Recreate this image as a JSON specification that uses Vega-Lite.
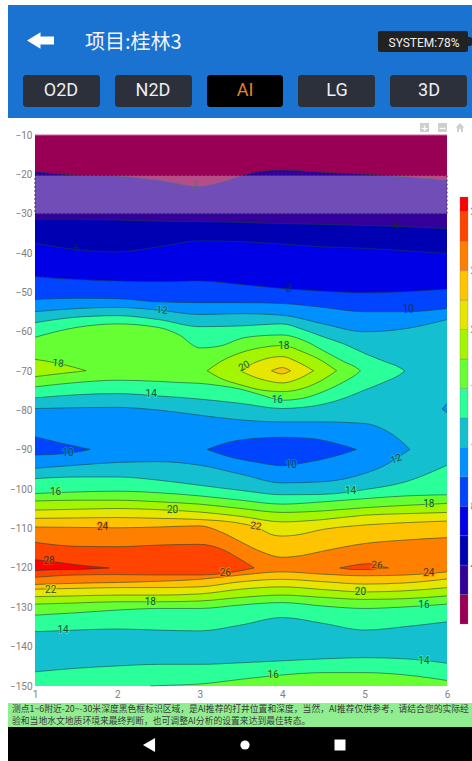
{"$schema":"https://vega.github.io/schema/vega-lite/v6.json","width":412,"height":551,"autosize":{"type":"none"},"padding":{"left":35,"top":135,"right":25,"bottom":75},"background":"#ffffff","config":{"view":{"stroke":null},"axis":{"grid":false,"domain":false,"ticks":false}},
"datasets":{
"curves":[
{"c":"c0","b":0,"x":1,"y":-10},{"c":"c0","b":0,"x":6,"y":-10},
{"c":"c2","b":2,"x":1,"y":-19.3},{"c":"c2","b":2,"x":1.5,"y":-20.2},{"c":"c2","b":2,"x":2,"y":-20.4},{"c":"c2","b":2,"x":2.5,"y":-21.5},{"c":"c2","b":2,"x":3,"y":-23},{"c":"c2","b":2,"x":3.25,"y":-22},{"c":"c2","b":2,"x":3.5,"y":-20.4},{"c":"c2","b":2,"x":3.75,"y":-19.2},{"c":"c2","b":2,"x":4,"y":-18.9},{"c":"c2","b":2,"x":4.5,"y":-19.5},{"c":"c2","b":2,"x":5,"y":-20},{"c":"c2","b":2,"x":5.5,"y":-20.6},{"c":"c2","b":2,"x":6,"y":-21.5},
{"c":"c4","b":4,"x":1,"y":-31.4},{"c":"c4","b":4,"x":1.5,"y":-31.4},{"c":"c4","b":4,"x":2,"y":-31.6},{"c":"c4","b":4,"x":2.5,"y":-31.9},{"c":"c4","b":4,"x":3,"y":-32},{"c":"c4","b":4,"x":3.5,"y":-32.2},{"c":"c4","b":4,"x":4,"y":-32.5},{"c":"c4","b":4,"x":4.5,"y":-32.7},{"c":"c4","b":4,"x":5,"y":-33},{"c":"c4","b":4,"x":5.5,"y":-33.3},{"c":"c4","b":4,"x":6,"y":-33.8},
{"c":"c6","b":6,"x":1,"y":-37.5},{"c":"c6","b":6,"x":1.5,"y":-39.1},{"c":"c6","b":6,"x":2,"y":-39.7},{"c":"c6","b":6,"x":2.5,"y":-38.4},{"c":"c6","b":6,"x":3,"y":-36.9},{"c":"c6","b":6,"x":3.5,"y":-37.1},{"c":"c6","b":6,"x":4,"y":-37.7},{"c":"c6","b":6,"x":4.5,"y":-38.4},{"c":"c6","b":6,"x":5,"y":-38.8},{"c":"c6","b":6,"x":5.5,"y":-39.4},{"c":"c6","b":6,"x":6,"y":-40.1},
{"c":"c8","b":8,"x":1,"y":-46},{"c":"c8","b":8,"x":1.5,"y":-46.7},{"c":"c8","b":8,"x":2,"y":-47.1},{"c":"c8","b":8,"x":2.5,"y":-47.3},{"c":"c8","b":8,"x":3,"y":-47.1},{"c":"c8","b":8,"x":3.5,"y":-48},{"c":"c8","b":8,"x":4,"y":-49},{"c":"c8","b":8,"x":4.5,"y":-49.7},{"c":"c8","b":8,"x":5,"y":-50.1},{"c":"c8","b":8,"x":5.5,"y":-49.8},{"c":"c8","b":8,"x":6,"y":-49.2},
{"c":"c10","b":10,"x":1,"y":-51.8},{"c":"c10","b":10,"x":1.5,"y":-51.5},{"c":"c10","b":10,"x":2,"y":-51.6},{"c":"c10","b":10,"x":2.5,"y":-52.4},{"c":"c10","b":10,"x":3,"y":-52.6},{"c":"c10","b":10,"x":3.5,"y":-52.6},{"c":"c10","b":10,"x":4,"y":-52.8},{"c":"c10","b":10,"x":4.5,"y":-53.8},{"c":"c10","b":10,"x":5,"y":-54.9},{"c":"c10","b":10,"x":5.5,"y":-54.9},{"c":"c10","b":10,"x":6,"y":-54.1},
{"c":"c12","b":12,"x":1,"y":-54.9},{"c":"c12","b":12,"x":1.5,"y":-54.1},{"c":"c12","b":12,"x":2,"y":-53.8},{"c":"c12","b":12,"x":2.5,"y":-54.5},{"c":"c12","b":12,"x":3,"y":-55.6},{"c":"c12","b":12,"x":3.5,"y":-55.4},{"c":"c12","b":12,"x":4,"y":-55.8},{"c":"c12","b":12,"x":4.5,"y":-58},{"c":"c12","b":12,"x":5,"y":-60},{"c":"c12","b":12,"x":5.5,"y":-59.2},{"c":"c12","b":12,"x":6,"y":-56.9},
{"c":"c14a","b":14,"x":1,"y":-97.3},{"c":"c14a","b":14,"x":1.5,"y":-96.9},{"c":"c14a","b":14,"x":2,"y":-96.9},{"c":"c14a","b":14,"x":2.5,"y":-97.7},{"c":"c14a","b":14,"x":3,"y":-99},{"c":"c14a","b":14,"x":3.5,"y":-100.3},{"c":"c14a","b":14,"x":4,"y":-101.4},{"c":"c14a","b":14,"x":4.5,"y":-101.3},{"c":"c14a","b":14,"x":5,"y":-100.1},{"c":"c14a","b":14,"x":5.5,"y":-98.1},{"c":"c14a","b":14,"x":6,"y":-93.9},
{"c":"c16a","b":16,"x":1,"y":-101.1},{"c":"c16a","b":16,"x":1.5,"y":-100.7},{"c":"c16a","b":16,"x":2,"y":-100.5},{"c":"c16a","b":16,"x":2.5,"y":-100.9},{"c":"c16a","b":16,"x":3,"y":-101.7},{"c":"c16a","b":16,"x":3.5,"y":-102.8},{"c":"c16a","b":16,"x":4,"y":-103.8},{"c":"c16a","b":16,"x":4.5,"y":-103.2},{"c":"c16a","b":16,"x":5,"y":-102.4},{"c":"c16a","b":16,"x":5.5,"y":-101.7},{"c":"c16a","b":16,"x":6,"y":-101.4},
{"c":"c18a","b":18,"x":1,"y":-103},{"c":"c18a","b":18,"x":1.5,"y":-102.8},{"c":"c18a","b":18,"x":2,"y":-102.8},{"c":"c18a","b":18,"x":2.5,"y":-103.2},{"c":"c18a","b":18,"x":3,"y":-103.8},{"c":"c18a","b":18,"x":3.5,"y":-104.9},{"c":"c18a","b":18,"x":4,"y":-105.9},{"c":"c18a","b":18,"x":4.5,"y":-105.5},{"c":"c18a","b":18,"x":5,"y":-104.7},{"c":"c18a","b":18,"x":5.5,"y":-104.1},{"c":"c18a","b":18,"x":6,"y":-103.6},
{"c":"c20a","b":20,"x":1,"y":-105.3},{"c":"c20a","b":20,"x":1.5,"y":-105.1},{"c":"c20a","b":20,"x":2,"y":-104.9},{"c":"c20a","b":20,"x":2.5,"y":-105.2},{"c":"c20a","b":20,"x":3,"y":-105.8},{"c":"c20a","b":20,"x":3.5,"y":-106.9},{"c":"c20a","b":20,"x":4,"y":-108.3},{"c":"c20a","b":20,"x":4.5,"y":-107.7},{"c":"c20a","b":20,"x":5,"y":-106.6},{"c":"c20a","b":20,"x":5.5,"y":-106.2},{"c":"c20a","b":20,"x":6,"y":-105.9},
{"c":"c22a","b":22,"x":1,"y":-107.4},{"c":"c22a","b":22,"x":1.5,"y":-107.3},{"c":"c22a","b":22,"x":2,"y":-107.2},{"c":"c22a","b":22,"x":2.5,"y":-107.4},{"c":"c22a","b":22,"x":3,"y":-107.7},{"c":"c22a","b":22,"x":3.5,"y":-108.7},{"c":"c22a","b":22,"x":3.68,"y":-109.6},{"c":"c22a","b":22,"x":3.9,"y":-111.7},{"c":"c22a","b":22,"x":4,"y":-111.9},{"c":"c22a","b":22,"x":4.15,"y":-111.7},{"c":"c22a","b":22,"x":4.5,"y":-110.2},{"c":"c22a","b":22,"x":5,"y":-109.1},{"c":"c22a","b":22,"x":5.5,"y":-108.5},{"c":"c22a","b":22,"x":6,"y":-108.1},
{"c":"c24a","b":24,"x":1,"y":-109.6},{"c":"c24a","b":24,"x":1.5,"y":-109.7},{"c":"c24a","b":24,"x":2,"y":-109.8},{"c":"c24a","b":24,"x":2.5,"y":-109.6},{"c":"c24a","b":24,"x":3,"y":-109.3},{"c":"c24a","b":24,"x":3.25,"y":-110.8},{"c":"c24a","b":24,"x":3.5,"y":-113.4},{"c":"c24a","b":24,"x":3.75,"y":-115.9},{"c":"c24a","b":24,"x":4,"y":-117.3},{"c":"c24a","b":24,"x":4.25,"y":-116.8},{"c":"c24a","b":24,"x":4.5,"y":-115.7},{"c":"c24a","b":24,"x":5,"y":-113.8},{"c":"c24a","b":24,"x":5.5,"y":-112.9},{"c":"c24a","b":24,"x":6,"y":-112.3},
{"c":"c24b","b":22,"x":1,"y":-124.2},{"c":"c24b","b":22,"x":1.5,"y":-123.9},{"c":"c24b","b":22,"x":2,"y":-123.7},{"c":"c24b","b":22,"x":2.5,"y":-123.4},{"c":"c24b","b":22,"x":3,"y":-122.9},{"c":"c24b","b":22,"x":3.5,"y":-121.8},{"c":"c24b","b":22,"x":4,"y":-121},{"c":"c24b","b":22,"x":4.5,"y":-121.6},{"c":"c24b","b":22,"x":5,"y":-122},{"c":"c24b","b":22,"x":5.5,"y":-121.8},{"c":"c24b","b":22,"x":6,"y":-121},
{"c":"c22b","b":20,"x":1,"y":-125.4},{"c":"c22b","b":20,"x":1.5,"y":-125.2},{"c":"c22b","b":20,"x":2,"y":-125},{"c":"c22b","b":20,"x":2.5,"y":-125},{"c":"c22b","b":20,"x":3,"y":-124.8},{"c":"c22b","b":20,"x":3.5,"y":-123.5},{"c":"c22b","b":20,"x":4,"y":-122.9},{"c":"c22b","b":20,"x":4.5,"y":-123.5},{"c":"c22b","b":20,"x":5,"y":-124.1},{"c":"c22b","b":20,"x":5.5,"y":-123.8},{"c":"c22b","b":20,"x":6,"y":-122.8},
{"c":"c20b","b":18,"x":1,"y":-127.3},{"c":"c20b","b":18,"x":1.5,"y":-127.1},{"c":"c20b","b":18,"x":2,"y":-126.9},{"c":"c20b","b":18,"x":2.5,"y":-126.9},{"c":"c20b","b":18,"x":3,"y":-126.6},{"c":"c20b","b":18,"x":3.5,"y":-125.4},{"c":"c20b","b":18,"x":4,"y":-124.8},{"c":"c20b","b":18,"x":4.5,"y":-125.5},{"c":"c20b","b":18,"x":5,"y":-126.1},{"c":"c20b","b":18,"x":5.5,"y":-125.8},{"c":"c20b","b":18,"x":6,"y":-125},
{"c":"c18b","b":16,"x":1,"y":-129.2},{"c":"c18b","b":16,"x":1.5,"y":-128.9},{"c":"c18b","b":16,"x":2,"y":-128.6},{"c":"c18b","b":16,"x":2.5,"y":-128.6},{"c":"c18b","b":16,"x":3,"y":-128.4},{"c":"c18b","b":16,"x":3.5,"y":-127.5},{"c":"c18b","b":16,"x":4,"y":-126.9},{"c":"c18b","b":16,"x":4.5,"y":-127.5},{"c":"c18b","b":16,"x":5,"y":-128},{"c":"c18b","b":16,"x":5.5,"y":-127.8},{"c":"c18b","b":16,"x":6,"y":-127.1},
{"c":"c16b","b":14,"x":1,"y":-132},{"c":"c16b","b":14,"x":1.5,"y":-131.4},{"c":"c16b","b":14,"x":2,"y":-130.7},{"c":"c16b","b":14,"x":2.5,"y":-130.3},{"c":"c16b","b":14,"x":3,"y":-130.3},{"c":"c16b","b":14,"x":3.5,"y":-129.4},{"c":"c16b","b":14,"x":4,"y":-128.8},{"c":"c16b","b":14,"x":4.5,"y":-129.7},{"c":"c16b","b":14,"x":5,"y":-130.3},{"c":"c16b","b":14,"x":5.5,"y":-129.9},{"c":"c16b","b":14,"x":6,"y":-129.2},
{"c":"c14b","b":12,"x":1,"y":-136.2},{"c":"c14b","b":12,"x":1.5,"y":-135.8},{"c":"c14b","b":12,"x":2,"y":-135.5},{"c":"c14b","b":12,"x":2.5,"y":-135.8},{"c":"c14b","b":12,"x":3,"y":-136},{"c":"c14b","b":12,"x":3.5,"y":-134.5},{"c":"c14b","b":12,"x":4,"y":-132.6},{"c":"c14b","b":12,"x":4.5,"y":-134.1},{"c":"c14b","b":12,"x":5,"y":-135.8},{"c":"c14b","b":12,"x":5.5,"y":-134.9},{"c":"c14b","b":12,"x":6,"y":-133.7},
{"c":"c14c","b":14,"x":1,"y":-146.4},{"c":"c14c","b":14,"x":1.5,"y":-145.5},{"c":"c14c","b":14,"x":2,"y":-144.9},{"c":"c14c","b":14,"x":2.5,"y":-144.5},{"c":"c14c","b":14,"x":3,"y":-144.5},{"c":"c14c","b":14,"x":3.5,"y":-144.1},{"c":"c14c","b":14,"x":4,"y":-143.6},{"c":"c14c","b":14,"x":4.5,"y":-143.1},{"c":"c14c","b":14,"x":5,"y":-142.8},{"c":"c14c","b":14,"x":5.5,"y":-143.1},{"c":"c14c","b":14,"x":6,"y":-144.2}
],
"bottomGreen":[{"x":2.4,"y":-150},{"x":2.5,"y":-149.9},{"x":3,"y":-149.5},{"x":3.5,"y":-148.3},{"x":4,"y":-147.2},{"x":4.5,"y":-146.6},{"x":5,"y":-146.6},{"x":5.5,"y":-147.2},{"x":6,"y":-148.6}],
"islands":[
{"c":"i14","b":14,"x":1,"top":-57.7,"bot":-76.8},{"c":"i14","b":14,"x":1.5,"top":-56.3,"bot":-76},{"c":"i14","b":14,"x":2,"top":-55.9,"bot":-75.7},{"c":"i14","b":14,"x":2.5,"top":-56.9,"bot":-76.3},{"c":"i14","b":14,"x":3,"top":-58.7,"bot":-77.1},{"c":"i14","b":14,"x":3.5,"top":-58.5,"bot":-78.2},{"c":"i14","b":14,"x":4,"top":-58,"bot":-79.5},{"c":"i14","b":14,"x":4.25,"top":-59.4,"bot":-79.2},{"c":"i14","b":14,"x":4.5,"top":-61.3,"bot":-78.4},{"c":"i14","b":14,"x":4.75,"top":-63.1,"bot":-76.9},{"c":"i14","b":14,"x":5,"top":-65.5,"bot":-74.8},{"c":"i14","b":14,"x":5.25,"top":-67.6,"bot":-72.7},{"c":"i14","b":14,"x":5.42,"top":-69,"bot":-71},{"c":"i14","b":14,"x":5.49,"top":-69.9,"bot":-69.9},
{"c":"i16","b":16,"x":1,"top":-61.4,"bot":-74},{"c":"i16","b":16,"x":1.5,"top":-58.9,"bot":-72.9},{"c":"i16","b":16,"x":2,"top":-58,"bot":-72.3},{"c":"i16","b":16,"x":2.5,"top":-58.9,"bot":-72.6},{"c":"i16","b":16,"x":2.75,"top":-60.8,"bot":-72.9},{"c":"i16","b":16,"x":3,"top":-64.1,"bot":-73.1},{"c":"i16","b":16,"x":3.25,"top":-63.6,"bot":-73.7},{"c":"i16","b":16,"x":3.5,"top":-61.7,"bot":-74.6},{"c":"i16","b":16,"x":3.75,"top":-61,"bot":-76.1},{"c":"i16","b":16,"x":4,"top":-60.8,"bot":-77.4},{"c":"i16","b":16,"x":4.25,"top":-62.1,"bot":-76.9},{"c":"i16","b":16,"x":4.5,"top":-64.8,"bot":-75.2},{"c":"i16","b":16,"x":4.75,"top":-67.6,"bot":-72.7},{"c":"i16","b":16,"x":4.9,"top":-69.1,"bot":-70.8},{"c":"i16","b":16,"x":4.95,"top":-69.9,"bot":-69.9},
{"c":"i18l","b":18,"x":1,"top":-67,"bot":-71.4},{"c":"i18l","b":18,"x":1.28,"top":-68,"bot":-70.7},{"c":"i18l","b":18,"x":1.62,"top":-69.9,"bot":-69.9},
{"c":"i18r","b":18,"x":3.09,"top":-69.9,"bot":-69.9},{"c":"i18r","b":18,"x":3.25,"top":-67.6,"bot":-71.8},{"c":"i18r","b":18,"x":3.5,"top":-65.3,"bot":-73.5},{"c":"i18r","b":18,"x":3.75,"top":-64,"bot":-74.8},{"c":"i18r","b":18,"x":4,"top":-63.5,"bot":-75.2},{"c":"i18r","b":18,"x":4.25,"top":-65.1,"bot":-74.4},{"c":"i18r","b":18,"x":4.5,"top":-67.6,"bot":-72.1},{"c":"i18r","b":18,"x":4.66,"top":-69.9,"bot":-69.9},
{"c":"i20","b":20,"x":3.49,"top":-69.9,"bot":-69.9},{"c":"i20","b":20,"x":3.65,"top":-68,"bot":-71.4},{"c":"i20","b":20,"x":3.81,"top":-66.8,"bot":-72.4},{"c":"i20","b":20,"x":4,"top":-66.3,"bot":-73},{"c":"i20","b":20,"x":4.18,"top":-67.6,"bot":-72.1},{"c":"i20","b":20,"x":4.38,"top":-69.9,"bot":-69.9},
{"c":"i22","b":22,"x":3.87,"top":-69.9,"bot":-69.9},{"c":"i22","b":22,"x":4,"top":-69.1,"bot":-70.7},{"c":"i22","b":22,"x":4.1,"top":-69.9,"bot":-69.9},
{"c":"i10","b":10,"x":1,"top":-79.5,"bot":-94.7},{"c":"i10","b":10,"x":1.5,"top":-79.3,"bot":-93.9},{"c":"i10","b":10,"x":2,"top":-79.2,"bot":-93.2},{"c":"i10","b":10,"x":2.5,"top":-79.9,"bot":-93},{"c":"i10","b":10,"x":3,"top":-81.2,"bot":-93.9},{"c":"i10","b":10,"x":3.5,"top":-82.4,"bot":-96.2},{"c":"i10","b":10,"x":4,"top":-82.9,"bot":-98.4},{"c":"i10","b":10,"x":4.5,"top":-82.9,"bot":-98.1},{"c":"i10","b":10,"x":5,"top":-83.3,"bot":-96},{"c":"i10","b":10,"x":5.25,"top":-85,"bot":-93.9},{"c":"i10","b":10,"x":5.45,"top":-87.9,"bot":-91.3},{"c":"i10","b":10,"x":5.55,"top":-89.9,"bot":-89.9},
{"c":"i10s","b":10,"x":5.94,"top":-79.6,"bot":-79.6},{"c":"i10s","b":10,"x":6,"top":-78.2,"bot":-80.6},
{"c":"i8l","b":8,"x":1,"top":-86.7,"bot":-91.3},{"c":"i8l","b":8,"x":1.34,"top":-88.4,"bot":-91},{"c":"i8l","b":8,"x":1.67,"top":-89.9,"bot":-89.9},
{"c":"i8r","b":8,"x":3.09,"top":-89.9,"bot":-89.9},{"c":"i8r","b":8,"x":3.33,"top":-88.2,"bot":-91.6},{"c":"i8r","b":8,"x":3.65,"top":-87.1,"bot":-93},{"c":"i8r","b":8,"x":4,"top":-86.8,"bot":-94},{"c":"i8r","b":8,"x":4.34,"top":-87.1,"bot":-93},{"c":"i8r","b":8,"x":4.66,"top":-88.4,"bot":-91.5},{"c":"i8r","b":8,"x":4.9,"top":-89.9,"bot":-89.9},
{"c":"i26l","b":26,"x":1,"top":-113.5,"bot":-122.4},{"c":"i26l","b":26,"x":1.5,"top":-114.5,"bot":-121.8},{"c":"i26l","b":26,"x":2,"top":-114.6,"bot":-121.7},{"c":"i26l","b":26,"x":2.5,"top":-114.2,"bot":-121.8},{"c":"i26l","b":26,"x":3,"top":-114,"bot":-121.8},{"c":"i26l","b":26,"x":3.25,"top":-115.1,"bot":-121.5},{"c":"i26l","b":26,"x":3.5,"top":-117.9,"bot":-120.7},{"c":"i26l","b":26,"x":3.66,"top":-120,"bot":-120},
{"c":"i26r","b":26,"x":4.7,"top":-120,"bot":-120},{"c":"i26r","b":26,"x":4.87,"top":-119.3,"bot":-120.4},{"c":"i26r","b":26,"x":5.07,"top":-118.9,"bot":-120.4},{"c":"i26r","b":26,"x":5.15,"top":-119.3,"bot":-120.2},{"c":"i26r","b":26,"x":5.29,"top":-120,"bot":-120},
{"c":"i28","b":28,"x":1,"top":-117.9,"bot":-120.7},{"c":"i28","b":28,"x":1.18,"top":-118.3,"bot":-120.5},{"c":"i28","b":28,"x":1.5,"top":-119.2,"bot":-120.4},{"c":"i28","b":28,"x":1.9,"top":-120,"bot":-120}
],
"labels":[
{"t":"2","b":0,"x":2.94,"y":-22.9,"a":0},{"t":"4","b":2,"x":5.38,"y":-33.1,"a":0},{"t":"6","b":4,"x":1.5,"y":-39,"a":0},{"t":"8","b":6,"x":4.08,"y":-49.1,"a":0},{"t":"10","b":8,"x":5.53,"y":-54.3,"a":0},{"t":"12","b":12,"x":2.54,"y":-54.5,"a":5},
{"t":"18","b":16,"x":4.02,"y":-63.6,"a":0},{"t":"18","b":16,"x":1.28,"y":-68,"a":8},{"t":"20","b":18,"x":3.54,"y":-68.7,"a":-30},{"t":"14","b":14,"x":2.41,"y":-75.8,"a":0},{"t":"16","b":14,"x":3.94,"y":-77.4,"a":0},
{"t":"10","b":10,"x":1.4,"y":-90.9,"a":0},{"t":"10","b":10,"x":4.11,"y":-93.9,"a":0},{"t":"12","b":12,"x":5.38,"y":-92.3,"a":-20},
{"t":"14","b":14,"x":4.83,"y":-100.5,"a":0},{"t":"16","b":16,"x":1.25,"y":-100.8,"a":0},{"t":"18","b":16,"x":5.78,"y":-103.8,"a":0},{"t":"20","b":18,"x":2.67,"y":-105.2,"a":0},{"t":"22","b":22,"x":3.68,"y":-109.4,"a":10},{"t":"24","b":24,"x":1.82,"y":-109.6,"a":0},
{"t":"28","b":26,"x":1.17,"y":-118.3,"a":0},{"t":"26","b":24,"x":3.31,"y":-121.4,"a":0},{"t":"26","b":24,"x":5.15,"y":-119.3,"a":5},{"t":"24","b":24,"x":5.78,"y":-121.4,"a":0},{"t":"22","b":20,"x":1.19,"y":-125.6,"a":0},{"t":"20","b":18,"x":4.95,"y":-126,"a":0},{"t":"18","b":16,"x":2.4,"y":-128.6,"a":0},{"t":"16","b":14,"x":5.72,"y":-129.5,"a":0},{"t":"14","b":14,"x":1.34,"y":-135.8,"a":0},{"t":"14","b":14,"x":5.72,"y":-143.7,"a":0},{"t":"16","b":16,"x":3.89,"y":-147.2,"a":0}
]
},
"layer":[
{"encoding":{"x":{"field":"l","type":"quantitative","axis":null,"scale":{"domain":[0,472],"range":[-35,437],"nice":false,"zero":false}},"y":{"field":"t","type":"quantitative","axis":null,"scale":{"domain":[0,761],"range":[-135,626],"nice":false,"zero":false}}},
"layer":[
{"data":{"values":[{"part":"header","l":8,"r":472,"t":5,"b":118}]},"mark":{"type":"rect","color":"#1a73d0"},"encoding":{"x2":{"field":"r"},"y2":{"field":"b"}}},
{"data":{"values":[{"part":"note","l":8,"r":472,"t":703,"b":727}]},"mark":{"type":"rect","color":"#90ee90"},"encoding":{"x2":{"field":"r"},"y2":{"field":"b"}}},
{"data":{"values":[{"part":"nav","l":8,"r":472,"t":727,"b":761}]},"mark":{"type":"rect","color":"#000000"},"encoding":{"x2":{"field":"r"},"y2":{"field":"b"}}},
{"data":{"values":[{"part":"badge","l":378,"r":468,"t":31,"b":52},{"part":"badge","l":467,"r":472,"t":37,"b":46}]},"mark":{"type":"rect","color":"#222222","cornerRadius":2},"encoding":{"x2":{"field":"r"},"y2":{"field":"b"}}},
{"data":{"values":[{"n":"O2D","l":23,"r":100,"t":75,"b":107,"cx":61,"cy":91},{"n":"N2D","l":115,"r":192,"t":75,"b":107,"cx":153,"cy":91},{"n":"AI","l":207,"r":283,"t":75,"b":107,"cx":245,"cy":91},{"n":"LG","l":298,"r":375,"t":75,"b":107,"cx":337,"cy":91},{"n":"3D","l":390,"r":467,"t":75,"b":107,"cx":429,"cy":91}]},
"layer":[
{"mark":{"type":"rect","cornerRadius":3},"encoding":{"x2":{"field":"r"},"y2":{"field":"b"},"color":{"condition":{"test":"datum.n==='AI'","value":"#000000"},"value":"#2b303b"}}},
{"mark":{"type":"text","font":"Roboto","fontSize":18,"baseline":"middle","align":"center"},"encoding":{"x":{"field":"cx","type":"quantitative"},"y":{"field":"cy","type":"quantitative"},"text":{"field":"n"},"color":{"condition":{"test":"datum.n==='AI'","value":"#e08428"},"value":"#eeeeee"}}}
]},
{"data":{"values":[{"l":85,"t":43,"s":"项目:桂林3"}]},"mark":{"type":"text","font":"Noto Sans CJK SC","fontSize":20,"align":"left","baseline":"middle","color":"#f2f2f2"},"encoding":{"text":{"field":"s"}}},
{"data":{"values":[{"l":424,"t":43,"s":"SYSTEM:78%"}]},"mark":{"type":"text","font":"Roboto","fontSize":12,"align":"center","baseline":"middle","color":"#eeeeee"},"encoding":{"text":{"field":"s"}}},
{"data":{"values":[{"l":12,"t":708.5,"s":"测点1~6附近-20~-30米深度黑色框标识区域，是AI推荐的打井位置和深度，当然，AI推荐仅供参考，请结合您的实际经"},{"l":12,"t":720.5,"s":"验和当地水文地质环境来最终判断，也可调整AI分析的设置来达到最佳转态。"}]},"mark":{"type":"text","font":"Noto Sans CJK SC","fontSize":8.8,"align":"left","baseline":"middle","color":"#3a3a3a"},"encoding":{"text":{"field":"s"}}},
{"data":{"values":[{"l":40.5,"t":40.5}]},"mark":{"type":"point","filled":true,"opacity":1,"color":"#ffffff","size":729,"shape":"M-1,0L0,-0.62L0,-0.3L1,-0.3L1,0.3L0,0.3L0,0.62Z"}},
{"data":{"values":[{"l":149,"t":745}]},"mark":{"type":"point","filled":true,"opacity":1,"color":"#ffffff","size":196,"shape":"triangle-left"}},
{"data":{"values":[{"l":245,"t":745}]},"mark":{"type":"point","filled":true,"opacity":1,"color":"#ffffff","size":85,"shape":"circle"}},
{"data":{"values":[{"l":340,"t":745}]},"mark":{"type":"point","filled":true,"opacity":1,"color":"#ffffff","size":121,"shape":"square"}},
{"data":{"values":[{"l":424.5,"t":127.5},{"l":442.5,"t":127.5}]},"mark":{"type":"point","filled":true,"opacity":1,"color":"#cfcfcf","size":81,"shape":"square"}},
{"data":{"values":[{"l":424.5,"t":127.5,"s":"+"},{"l":442.5,"t":127.5,"s":"−"}]},"mark":{"type":"text","font":"DejaVu Sans","fontWeight":"bold","fontSize":9,"align":"center","baseline":"middle","color":"#ffffff"},"encoding":{"text":{"field":"s"}}},
{"data":{"values":[{"l":460,"t":127.5}]},"mark":{"type":"point","filled":true,"opacity":1,"color":"#cfcfcf","size":81,"shape":"M0,-1L1,0L0.65,0L0.65,1L0.2,1L0.2,0.3L-0.2,0.3L-0.2,1L-0.65,1L-0.65,0L-1,0Z"}}
]},
{"encoding":{"x":{"field":"x","type":"quantitative","scale":{"domain":[1,6],"nice":false,"zero":false},"axis":{"values":[1,2,3,4,5,6],"title":null,"format":"d","labelFont":"Roboto","labelFontSize":10,"labelColor":"#808080","labelPadding":3,"labelFlush":false}},"y":{"field":"y","type":"quantitative","scale":{"domain":[-150,-10],"nice":false,"zero":false},"axis":{"values":[-10,-20,-30,-40,-50,-60,-70,-80,-90,-100,-110,-120,-130,-140,-150],"title":null,"format":"d","labelFont":"Roboto","labelFontSize":10,"labelColor":"#808080","labelPadding":3}}},
"layer":[
{"data":{"name":"curves"},"mark":{"type":"area","interpolate":"monotone"},"encoding":{"y2":{"datum":-150},"detail":{"field":"c"},"fill":{"field":"b","type":"nominal","legend":null,"scale":{"domain":[0,2,4,6,8,10,12,14,16,18,20,22,24,26,28],"range":["#990055","#330099","#0000b3","#0000e6","#0044ff","#0090ff","#14c0d0","#2aff9a","#66ff33","#a4f500","#e6e600","#ffc400","#ff8000","#ff4400","#ff0000"]}}}},
{"data":{"name":"islands"},"mark":{"type":"area","interpolate":"monotone"},"encoding":{"y":{"field":"top","type":"quantitative"},"y2":{"field":"bot"},"detail":{"field":"c"},"fill":{"field":"b","type":"nominal","legend":null}}},
{"data":{"name":"bottomGreen"},"mark":{"type":"area","interpolate":"monotone","color":"#66ff33"},"encoding":{"y2":{"datum":-150}}},
{"data":{"name":"bottomGreen"},"mark":{"type":"line","interpolate":"monotone","strokeWidth":0.7,"color":"#17403a","opacity":0.8}},
{"data":{"name":"curves"},"transform":[{"filter":"datum.c!=='c0'"}],"mark":{"type":"line","interpolate":"monotone","strokeWidth":0.7,"color":"#17403a","opacity":0.8},"encoding":{"detail":{"field":"c"}}},
{"data":{"name":"islands"},"mark":{"type":"line","interpolate":"monotone","strokeWidth":0.7,"color":"#17403a","opacity":0.8},"encoding":{"y":{"field":"top","type":"quantitative"},"detail":{"field":"c"}}},
{"data":{"name":"islands"},"mark":{"type":"line","interpolate":"monotone","strokeWidth":0.7,"color":"#17403a","opacity":0.8},"encoding":{"y":{"field":"bot","type":"quantitative"},"detail":{"field":"c"}}},
{"data":{"name":"labels"},"transform":[{"filter":"datum.b>=8"}],"mark":{"type":"text","font":"Roboto","fontSize":10,"align":"center","baseline":"middle","strokeWidth":2,"strokeOpacity":0.7},"encoding":{"text":{"field":"t"},"angle":{"field":"a","type":"quantitative","scale":null},"stroke":{"field":"b","type":"nominal","legend":null,"scale":{"domain":[0,2,4,6,8,10,12,14,16,18,20,22,24,26,28],"range":["#990055","#330099","#0000b3","#0000e6","#0044ff","#0090ff","#14c0d0","#2aff9a","#66ff33","#a4f500","#e6e600","#ffc400","#ff8000","#ff4400","#ff0000"]}},"fill":{"field":"b","type":"nominal","legend":null}}},
{"data":{"name":"labels"},"mark":{"type":"text","font":"Roboto","fontSize":10,"align":"center","baseline":"middle","color":"#123030","opacity":0.85},"encoding":{"text":{"field":"t"},"angle":{"field":"a","type":"quantitative","scale":null}}},
{"data":{"values":[{"x":1,"x2":6,"y":-20.3,"y2":-30}]},"mark":{"type":"rect","fill":"#ffffff","fillOpacity":0.3,"stroke":"#3a2a5a","strokeWidth":1,"strokeDash":[2,2]},"encoding":{"x2":{"field":"x2"},"y2":{"field":"y2"}}},
{"data":{"values":[{"x":1,"x2":6,"y":-10}]},"mark":{"type":"rule","color":"#d060a0","strokeWidth":1},"encoding":{"x2":{"field":"x2"}}}
]},
{"data":{"values":[{"lo":0,"hi":2,"b":0,"p":0,"q":1},{"lo":2,"hi":4,"b":2,"p":0,"q":1},{"lo":4,"hi":6,"b":4,"p":0,"q":1},{"lo":6,"hi":8,"b":6,"p":0,"q":1},{"lo":8,"hi":10,"b":8,"p":0,"q":1},{"lo":10,"hi":12,"b":10,"p":0,"q":1},{"lo":12,"hi":14,"b":12,"p":0,"q":1},{"lo":14,"hi":16,"b":14,"p":0,"q":1},{"lo":16,"hi":18,"b":16,"p":0,"q":1},{"lo":18,"hi":20,"b":18,"p":0,"q":1},{"lo":20,"hi":22,"b":20,"p":0,"q":1},{"lo":22,"hi":24,"b":22,"p":0,"q":1},{"lo":24,"hi":26,"b":24,"p":0,"q":1},{"lo":26,"hi":28,"b":26,"p":0,"q":1},{"lo":28,"hi":29,"b":28,"p":0,"q":1}]},
"mark":{"type":"rect","stroke":"#777777","strokeWidth":0.3},
"encoding":{"x":{"field":"p","type":"quantitative","axis":null,"scale":{"domain":[0,1],"range":[425,433],"nice":false,"zero":false}},"x2":{"field":"q"},"y":{"field":"lo","type":"quantitative","scale":{"domain":[0,29],"range":[489,62],"nice":false,"zero":false},"axis":{"orient":"right","offset":23,"values":[4,8,12,16,20,24,28],"title":null,"labelFont":"Roboto","labelFontSize":10,"labelColor":"#808080","labelPadding":0}},"y2":{"field":"hi"},"fill":{"field":"b","type":"nominal","legend":null}}}
],
"resolve":{"scale":{"x":"independent","y":"independent"}}
}
